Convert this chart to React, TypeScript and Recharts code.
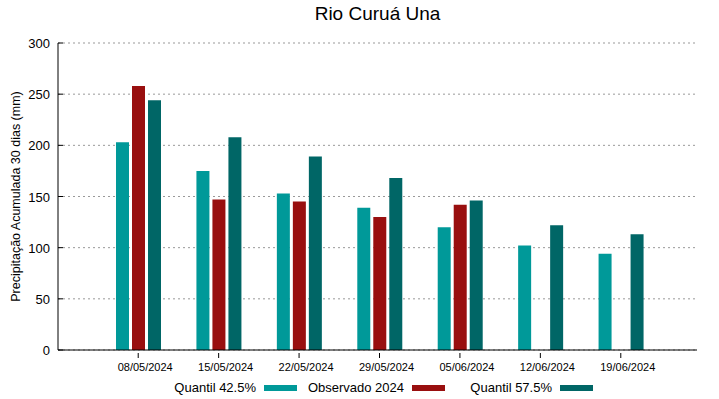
import {
  Bar,
  BarChart,
  CartesianGrid,
  Legend,
  XAxis,
  YAxis,
} from 'recharts'

const categories = [
  '08/05/2024',
  '15/05/2024',
  '22/05/2024',
  '29/05/2024',
  '05/06/2024',
  '12/06/2024',
  '19/06/2024',
]
const quantil425 = [203, 175, 153, 139, 120, 102, 94]
const observado2024 = [258, 147, 145, 130, 142, null, null]
const quantil575 = [244, 208, 189, 168, 146, 122, 113]
const yTicks = [0, 50, 100, 150, 200, 250, 300]

const series = [
  { key: 'q425', name: 'Quantil 42.5%', color: '#009999' },
  { key: 'obs', name: 'Observado 2024', color: '#990f0f' },
  { key: 'q575', name: 'Quantil 57.5%', color: '#006666' },
]

const data = categories.map((date, i) => ({
  date,
  q425: quantil425[i],
  obs: observado2024[i],
  q575: quantil575[i],
}))

const FONT = '"Liberation Sans", Arial, sans-serif'
const TICK = 5

function LeftTick({ x, y, payload }: any) {
  return (
    <g>
      <line x1={x + 8} x2={x + 8 + TICK} y1={y} y2={y} stroke="#000" />
      <text x={x} y={y} dy={5} textAnchor="end" fontSize={13} fill="#000" fontFamily={FONT}>
        {payload.value}
      </text>
    </g>
  )
}

function RightTick({ x, y }: any) {
  return <line x1={x} x2={x - TICK} y1={y} y2={y} stroke="#000" />
}

// gnuplot puts the date labels a few px right of the tick
function BottomTick({ x, y, payload }: any) {
  return (
    <g>
      <line x1={x} x2={x} y1={y} y2={y - TICK} stroke="#000" />
      <text x={x + 7} y={y} dy={13} textAnchor="middle" fontSize={11} fill="#000" fontFamily={FONT}>
        {payload.value}
      </text>
    </g>
  )
}

function TopTick({ x, y }: any) {
  return <line x1={x} x2={x} y1={y} y2={y + TICK} stroke="#000" />
}

function YLabel({ viewBox }: any) {
  const cx = viewBox.x + 16
  const cy = viewBox.y + viewBox.height / 2
  return (
    <text
      x={cx}
      y={cy}
      transform={`rotate(-90 ${cx} ${cy})`}
      textAnchor="middle"
      dominantBaseline="central"
      fontSize={12.5}
      fontFamily={FONT}
      fill="#000"
    >
      Precipitação Acumulada 30 dias (mm)
    </text>
  )
}

function LegendContent() {
  return (
    <div
      style={{
        display: 'flex',
        alignItems: 'center',
        paddingLeft: 149,
        fontFamily: FONT,
        fontSize: 13,
        lineHeight: '15px',
        color: '#000',
      }}
    >
      {series.map((s) => (
        <div key={s.key} style={{ display: 'flex', alignItems: 'center', width: 148 }}>
          <span style={{ width: 107, textAlign: 'right' }}>{s.name}</span>
          <span
            style={{
              display: 'inline-block',
              width: 33,
              height: 6,
              background: s.color,
              marginLeft: 8,
            }}
          />
        </div>
      ))}
    </div>
  )
}

export default function App() {
  return (
    <div style={{ position: 'absolute', left: 0, top: 0, width: 719, height: 399, background: '#fff' }}>
      <div
        style={{
          position: 'absolute',
          left: 0,
          top: 3,
          width: 755,
          textAlign: 'center',
          fontFamily: FONT,
          fontSize: 19,
          color: '#000',
        }}
      >
        Rio Curuá Una
      </div>
      <BarChart
        width={719}
        height={399}
        data={data}
        margin={{ top: 43, right: 22, bottom: 0, left: 0 }}
        barSize={13}
        barGap={3}
      >
        <CartesianGrid
          vertical={false}
          stroke="#999"
          strokeDasharray="2 3"
          yAxisId="left"
        />
        <XAxis
          dataKey="date"
          xAxisId="bottom"
          height={49}
          padding={{ left: 40, right: 36 }}
          axisLine={{ stroke: '#000' }}
          tickLine={false}
          tick={<BottomTick />}
          interval={0}
        />
        <XAxis
          dataKey="date"
          xAxisId="top"
          orientation="top"
          height={0}
          padding={{ left: 40, right: 36 }}
          axisLine={{ stroke: '#000' }}
          tickLine={false}
          tick={<TopTick />}
          interval={0}
        />
        <YAxis
          yAxisId="left"
          width={58}
          domain={[0, 300]}
          ticks={yTicks}
          tickLine={false}
          tickSize={0}
          tickMargin={8}
          axisLine={{ stroke: '#000' }}
          tick={<LeftTick />}
          label={<YLabel />}
          interval={0}
        />
        <YAxis
          yAxisId="right"
          orientation="right"
          width={0}
          domain={[0, 300]}
          ticks={yTicks}
          tickLine={false}
          tickSize={0}
          tickMargin={0}
          axisLine={{ stroke: '#000' }}
          tick={<RightTick />}
          interval={0}
        />
        <Legend
          layout="horizontal"
          verticalAlign="middle"
          align="center"
          wrapperStyle={{ top: 380, left: 0, width: 719 }}
          content={<LegendContent />}
        />
        {series.map((s) => (
          <Bar
            key={s.key}
            dataKey={s.key}
            name={s.name}
            fill={s.color}
            xAxisId="bottom"
            yAxisId="left"
            isAnimationActive={false}
          />
        ))}
      </BarChart>
    </div>
  )
}
